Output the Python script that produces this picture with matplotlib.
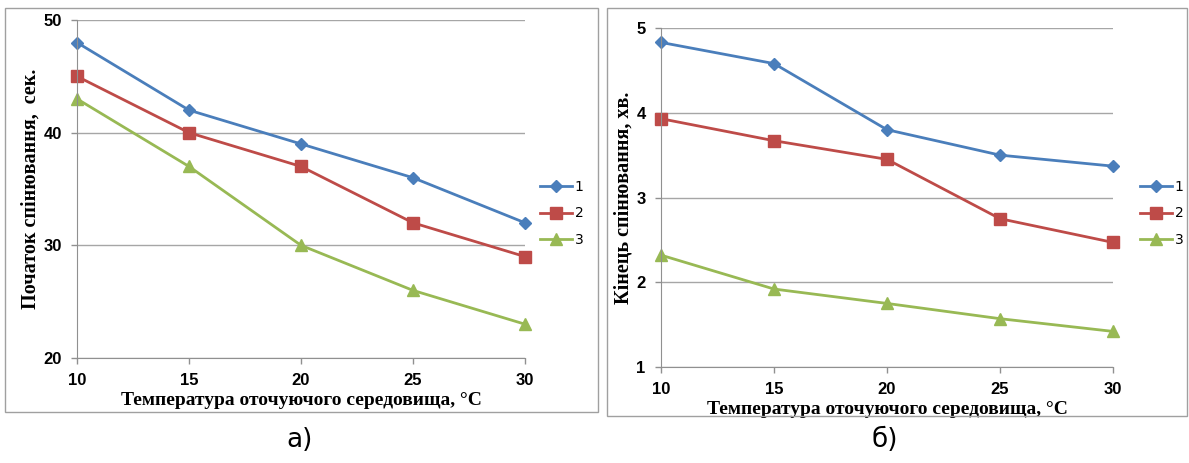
import matplotlib.pyplot as plt
from matplotlib.patches import Rectangle

# temperature, °C
temps = [10, 15, 20, 25, 30]

# a) start of foaming, sec
start_1 = [48, 42, 39, 36, 32]
start_2 = [45, 40, 37, 32, 29]
start_3 = [43, 37, 30, 26, 23]

# б) end of foaming, min
end_1 = [4.83, 4.58, 3.80, 3.50, 3.37]
end_2 = [3.93, 3.67, 3.45, 2.75, 2.47]
end_3 = [2.32, 1.92, 1.75, 1.57, 1.42]

series_labels = ['1', '2', '3']
colors = ['#4A7EBB', '#BE4B48', '#98B954']
markers = ['D', 's', '^']
msizes = [6, 9, 8]

x_title = 'Температура оточуючого середовища, °C'

fig = plt.figure(figsize=(11.89, 4.63), dpi=100)

# panel frames
fig.patches.append(Rectangle((5 / 1189, 1 - 412 / 463), 593 / 1189, 404 / 463,
                             transform=fig.transFigure, fill=False, ec='#A0A0A0', lw=1))
fig.patches.append(Rectangle((607 / 1189, 1 - 416 / 463), 580 / 1189, 408 / 463,
                             transform=fig.transFigure, fill=False, ec='#A0A0A0', lw=1))

ax1 = fig.add_axes([77 / 1189, 1 - 358 / 463, 448 / 1189, 338 / 463])
ax2 = fig.add_axes([661 / 1189, 1 - 367 / 463, 452 / 1189, 339 / 463])


def style_axes(ax, yticks, ylabel):
    ax.set_xlim(10, 30)
    ax.set_ylim(yticks[0], yticks[-1])
    ax.set_xticks(temps)
    ax.set_yticks(yticks)
    for s in ['top', 'right']:
        ax.spines[s].set_visible(False)
    for s in ['left', 'bottom']:
        ax.spines[s].set_color('#909090')
    ax.grid(axis='y', color='#A6A6A6', lw=1)
    ax.set_axisbelow(True)
    ax.tick_params(colors='#909090', length=4, width=1, labelcolor='black', pad=7)
    for lab in ax.get_xticklabels() + ax.get_yticklabels():
        lab.set_fontfamily('Liberation Sans')
        lab.set_fontweight('bold')
        lab.set_fontsize(12)
    ax.set_xlabel(x_title, fontfamily='Liberation Serif', fontweight='bold', fontsize=14, labelpad=3)
    ax.set_ylabel(ylabel, fontfamily='Liberation Serif', fontweight='bold', fontsize=14.5, labelpad=2)


for vals, lab, c, m, ms in zip([start_1, start_2, start_3], series_labels, colors, markers, msizes):
    ax1.plot(temps, vals, color=c, marker=m, markersize=ms, lw=2, label=lab, clip_on=False)
for vals, lab, c, m, ms in zip([end_1, end_2, end_3], series_labels, colors, markers, msizes):
    ax2.plot(temps, vals, color=c, marker=m, markersize=ms, lw=2, label=lab, clip_on=False)

style_axes(ax1, [20, 30, 40, 50], 'Початок спінювання,  сек.')
style_axes(ax2, [1, 2, 3, 4, 5], 'Кінець спінювання, хв.')

for ax, x0 in [(ax1, 533), (ax2, 1133)]:
    ax.legend(loc='upper left', bbox_to_anchor=(x0 / 1189, 1 - 173 / 463),
              bbox_transform=fig.transFigure, frameon=False, fontsize=10,
              handlelength=2.3, handletextpad=0.2, labelspacing=0.9, borderpad=0)

fig.text(300 / 1189, 1 - 440 / 463, 'а)', ha='center', va='center', fontsize=19,
         family=['Liberation Sans Narrow', 'DejaVu Sans'])
fig.text(885 / 1189, 1 - 440 / 463, 'б)', ha='center', va='center', fontsize=19,
         family=['Liberation Sans Narrow', 'DejaVu Sans'])

fig.savefig('out.png', dpi=100)
